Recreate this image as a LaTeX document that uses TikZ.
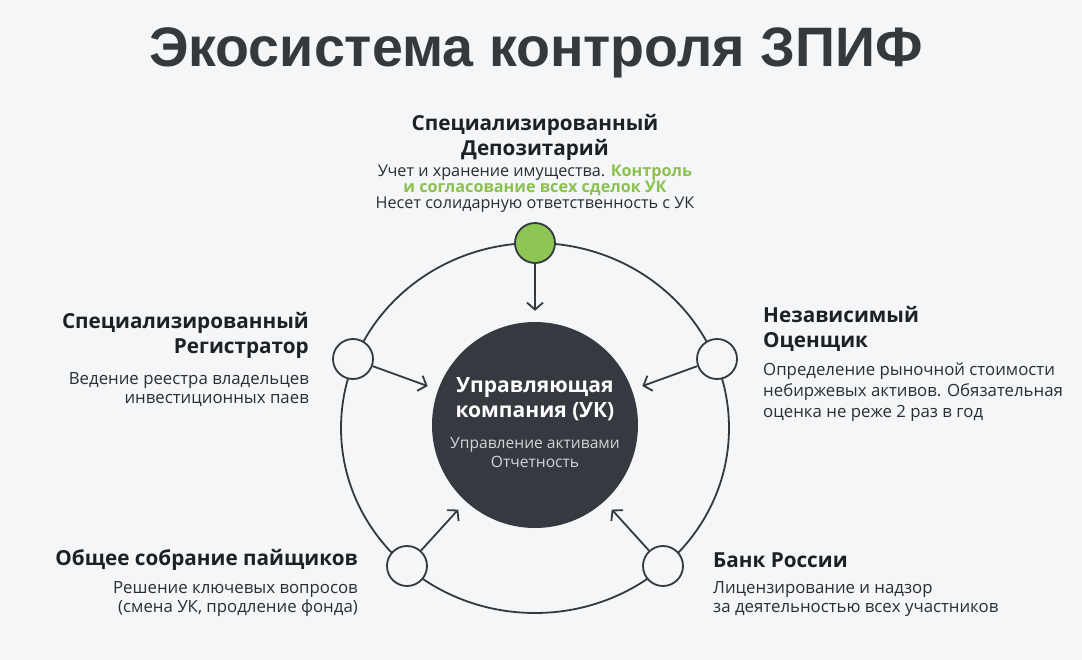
\documentclass[tikz,border=0pt]{standalone}
\usepackage{fontspec}
\setmainfont{Open Sans}
\newfontfamily\titlefont{Liberation Sans}
\usetikzlibrary{arrows.meta}
\definecolor{bgc}{HTML}{F4F6F8}
\definecolor{ink}{HTML}{34393E}
\definecolor{txt}{HTML}{1E2124}
\definecolor{body}{HTML}{2A2E32}
\definecolor{grn}{HTML}{8CC152}
\definecolor{grnfill}{HTML}{8DC655}
\definecolor{core}{HTML}{353A40}
\definecolor{coretxt}{HTML}{D2D5D8}
\tikzset{
  ringline/.style={draw=ink, line width=1.8pt},
  satellite/.style={circle, draw=ink, line width=1.8pt, fill=bgc, minimum size=40pt, inner sep=0pt},
  hubnode/.style={circle, fill=core, minimum size=206pt, inner sep=0pt},
  linkarrow/.style={draw=ink, line width=1.8pt, -{Straight Barb[length=7pt,width=16pt,line width=1.8pt]}, shorten >=11pt},
  headtxt/.style={font=\bfseries\fontsize{20.7}{25}\selectfont, text=txt, inner sep=0pt},
  bodytxt/.style={font=\fontsize{16.8}{19}\selectfont, text=body, inner sep=0pt},
}
\begin{document}
\begin{tikzpicture}[x=1pt,y=-1pt]
\fill[bgc] (0,0) rectangle (1082,660);
\useasboundingbox (0,0) rectangle (1082,660);

% title
\node[font=\titlefont\bfseries\fontsize{55.6}{60}\selectfont, text=ink, inner sep=0pt] (title) at (536,53) {Экосистема контроля ЗПИФ};

% ring
\draw[ringline] (535,428) ellipse [x radius=194, y radius=185];

% hub
\node[hubnode] (hub) at (535,425) {};
\node[font=\bfseries\fontsize{21}{25}\selectfont, text=white, align=center, inner sep=0pt] (hubtitle) at (535,399.5) {Управляющая\\компания (УК)};
\node[font=\fontsize{15.6}{19}\selectfont, text=coretxt, align=center, inner sep=0pt] (hubbody) at (535,452.5) {Управление активами\\Отчетность};

% satellites
\node[satellite, fill=grnfill] (dep) at (535,243) {};
\node[satellite] (reg) at (353,359) {};
\node[satellite] (ocn) at (717,359) {};
\node[satellite] (sob) at (407,566) {};
\node[satellite] (cbr) at (663,566) {};

% arrows
\draw[linkarrow] (dep) -- (hub);
\draw[linkarrow] (reg) -- (hub);
\draw[linkarrow] (ocn) -- (hub);
\draw[linkarrow] (sob) -- (hub);
\draw[linkarrow] (cbr) -- (hub);

% depositary label
\node[headtxt, align=center] (depH) at (535,137.5) {Специализированный\\Депозитарий};
\node[bodytxt, font=\fontsize{16.2}{16}\selectfont, align=center] (depB) at (535,189) {Учет и хранение имущества. \textcolor{grn}{\bfseries Контроль}\\\textcolor{grn}{\bfseries и согласование всех сделок УК}\\Несет солидарную ответственность с УК};

% registrar label
\node[headtxt, align=right, anchor=east] (regH) at (309,335.5) {Специализированный\\Регистратор};
\node[bodytxt, align=right, anchor=east] (regB) at (309,389.5) {Ведение реестра владельцев\\инвестиционных паев};

% appraiser label
\node[headtxt, align=left, anchor=west] (ocnH) at (763,328.5) {Независимый\\Оценщик};
\node[bodytxt, font=\fontsize{16.8}{21}\selectfont, align=left, anchor=west] (ocnB) at (763,392) {Определение рыночной стоимости\\небиржевых активов. Обязательная\\оценка не реже 2 раз в год};

% shareholders label
\node[headtxt, anchor=east] (sobH) at (358,560) {Общее собрание пайщиков};
\node[bodytxt, align=right, anchor=east] (sobB) at (358,599.5) {Решение ключевых вопросов\\(смена УК, продление фонда)};

% central bank label
\node[headtxt, anchor=west] (cbrH) at (713,560) {Банк России};
\node[bodytxt, align=left, anchor=west] (cbrB) at (713,599.5) {Лицензирование и надзор\\за деятельностью всех участников};
\end{tikzpicture}
\end{document}
